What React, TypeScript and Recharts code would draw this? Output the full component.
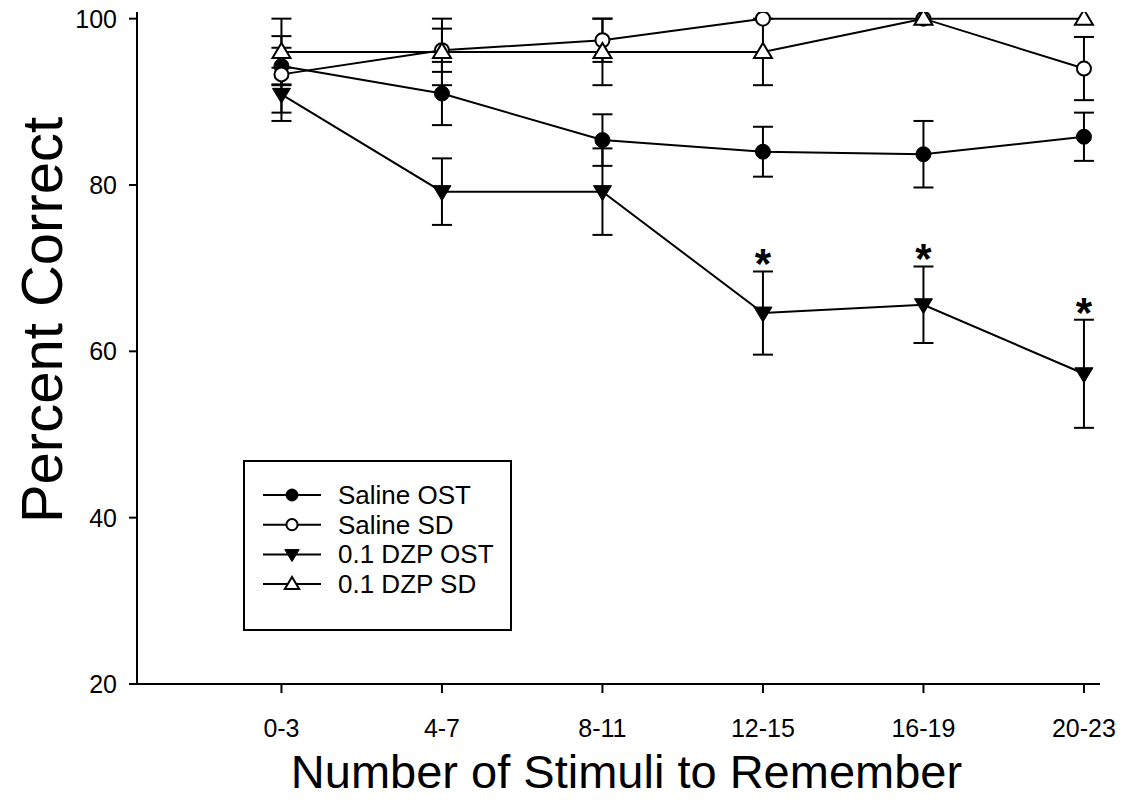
import React from 'react';
import { ComposedChart, Line, Scatter, XAxis, YAxis, ErrorBar, Legend } from 'recharts';

const categories = ['0-3', '4-7', '8-11', '12-15', '16-19', '20-23'];

const salineOst = [94.3, 91.0, 85.4, 84.0, 83.7, 85.8];
const salineOstErr = [2.2, 3.8, 3.1, 3.0, 4.0, 2.9];
const salineSd = [93.3, 96.2, 97.4, 100, 100, 94.0];
const salineSdErr = [4.6, 2.6, 2.6, null, null, 3.8];
const dzpOst = [90.9, 79.2, 79.2, 64.6, 65.6, 57.3];
const dzpOstErr = [3.2, 4.0, 5.2, 5.0, 4.6, 6.5];
const dzpSd = [96.0, 96.0, 96.0, 96.0, 100, 100];
const dzpSdErr = [4.0, 4.0, 4.0, 4.0, null, null];
const significant = [false, false, false, true, true, true];

const seriesNames = ['Saline OST', 'Saline SD', '0.1 DZP OST', '0.1 DZP SD'];
const yTicks = [20, 40, 60, 80, 100];

const data = categories.map((_, i) => ({
  x: i,
  salineOst: salineOst[i],
  salineOstErr: salineOstErr[i],
  salineSd: salineSd[i],
  salineSdErr: salineSdErr[i],
  dzpOst: dzpOst[i],
  dzpOstErr: dzpOstErr[i],
  dzpSd: dzpSd[i],
  dzpSdErr: dzpSdErr[i],
}));

// stars sit on top of the upper error bar of the DZP OST series
const starData = categories
  .map((_, i) => ({ x: i, star: dzpOst[i] + dzpOstErr[i] }))
  .filter((_, i) => significant[i]);

const FONT = '"Liberation Sans", Arial, sans-serif';

type Kind = 'filledCircle' | 'openCircle' | 'filledDown' | 'openUp';

const markerOf: Record<string, Kind> = {
  salineOst: 'filledCircle',
  salineSd: 'openCircle',
  dzpOst: 'filledDown',
  dzpSd: 'openUp',
};

const Marker = ({ kind, cx, cy, s = 1 }: { kind: Kind; cx: number; cy: number; s?: number }) => {
  if (cx == null || cy == null || isNaN(cx) || isNaN(cy)) return null;
  if (kind === 'filledCircle') return <circle cx={cx} cy={cy} r={7.5 * s} fill="#000" stroke="#000" strokeWidth={1} />;
  if (kind === 'openCircle') return <circle cx={cx} cy={cy} r={7 * s} fill="#fff" stroke="#000" strokeWidth={2} />;
  const w = 9 * s;
  if (kind === 'filledDown') {
    const pts = `${cx - w},${cy - 6 * s} ${cx + w},${cy - 6 * s} ${cx},${cy + 9 * s}`;
    return <polygon points={pts} fill="#000" stroke="#000" strokeWidth={1} />;
  }
  const pts = `${cx - w},${cy + 6 * s} ${cx + w},${cy + 6 * s} ${cx},${cy - 9 * s}`;
  return <polygon points={pts} fill="#fff" stroke="#000" strokeWidth={2} />;
};

const dotFor = (key: string) => (p: any) => (
  <Marker key={`${key}-${p.index}`} kind={markerOf[key]} cx={p.cx} cy={p.cy} />
);

const renderStar = (p: any) => (
  <text x={p.cx} y={p.cy + 7} textAnchor="middle" fontFamily={FONT} fontWeight="bold" fontSize={42} fill="#000">
    *
  </text>
);

const renderLegend = (props: any) => {
  const items = (props.payload || [])
    .filter((e: any) => markerOf[e.dataKey])
    .sort((a: any, b: any) => seriesNames.indexOf(a.value) - seriesNames.indexOf(b.value));
  return (
    <svg width={265} height={167} style={{ display: 'block' }}>
      {items.map((e: any, i: number) => {
        const y = 33 + i * 29.7;
        return (
          <g key={e.dataKey}>
            <line x1={18} x2={76} y1={y} y2={y} stroke="#000" strokeWidth={2} />
            <Marker kind={markerOf[e.dataKey]} cx={47} cy={y} s={0.8} />
            <text x={93} y={y + 9} fontFamily={FONT} fontSize={26} fill="#000">
              {e.value}
            </text>
          </g>
        );
      })}
    </svg>
  );
};

const YTitle = (props: any) => {
  const vb = props.viewBox;
  const x = vb.x + 62;
  const y = vb.y + vb.height / 2 - 28;
  return (
    <text x={x} y={y} transform={`rotate(-90, ${x}, ${y})`} textAnchor="middle" fontFamily={FONT} fontSize={58} fill="#000">
      Percent Correct
    </text>
  );
};

const XTitle = (props: any) => {
  const vb = props.viewBox;
  return (
    <text x={vb.x + vb.width / 2 + 8} y={vb.y + 104} textAnchor="middle" fontFamily={FONT} fontSize={47} fill="#000">
      Number of Stimuli to Remember
    </text>
  );
};

const App: React.FC = () => {
  return (
    <div style={{ position: 'absolute', left: 0, top: 0, background: '#fff' }}>
      <ComposedChart width={1129} height={802} data={data} margin={{ top: 12, right: 29, left: 0, bottom: 0 }}>
        <XAxis
          type="number"
          dataKey="x"
          domain={[-0.9, 5.1]}
          ticks={[0, 1, 2, 3, 4, 5]}
          tickFormatter={(v: number) => categories[v]}
          height={118}
          tickSize={9}
          tickMargin={26}
          stroke="#000"
          strokeWidth={2}
          tick={{ fill: '#000', fontSize: 25, fontFamily: FONT }}
          label={<XTitle />}
        />
        <YAxis
          type="number"
          domain={[20, 100.8]}
          ticks={yTicks}
          allowDataOverflow
          width={137}
          tickSize={8}
          tickMargin={12}
          stroke="#000"
          strokeWidth={2}
          tick={{ fill: '#000', fontSize: 25, fontFamily: FONT }}
          label={<YTitle />}
        />
        <Line dataKey="salineOst" name={seriesNames[0]} stroke="#000" strokeWidth={2} dot={dotFor('salineOst')} activeDot={false} isAnimationActive={false}>
          <ErrorBar dataKey="salineOstErr" width={10} stroke="#000" strokeWidth={2} direction="y" />
        </Line>
        <Line dataKey="salineSd" name={seriesNames[1]} stroke="#000" strokeWidth={2} dot={dotFor('salineSd')} activeDot={false} isAnimationActive={false}>
          <ErrorBar dataKey="salineSdErr" width={10} stroke="#000" strokeWidth={2} direction="y" />
        </Line>
        <Line dataKey="dzpOst" name={seriesNames[2]} stroke="#000" strokeWidth={2} dot={dotFor('dzpOst')} activeDot={false} isAnimationActive={false}>
          <ErrorBar dataKey="dzpOstErr" width={10} stroke="#000" strokeWidth={2} direction="y" />
        </Line>
        <Line dataKey="dzpSd" name={seriesNames[3]} stroke="#000" strokeWidth={2} dot={dotFor('dzpSd')} activeDot={false} isAnimationActive={false}>
          <ErrorBar dataKey="dzpSdErr" width={10} stroke="#000" strokeWidth={2} direction="y" />
        </Line>
        <Scatter data={starData} dataKey="star" legendType="none" shape={renderStar} isAnimationActive={false} />
        <Legend
          layout="vertical"
          align="center"
          verticalAlign="middle"
          content={renderLegend}
          wrapperStyle={{ left: 243, top: 460, width: 269, height: 171, border: '2px solid #000', boxSizing: 'border-box', background: '#fff' }}
        />
      </ComposedChart>
    </div>
  );
};

export default App;
